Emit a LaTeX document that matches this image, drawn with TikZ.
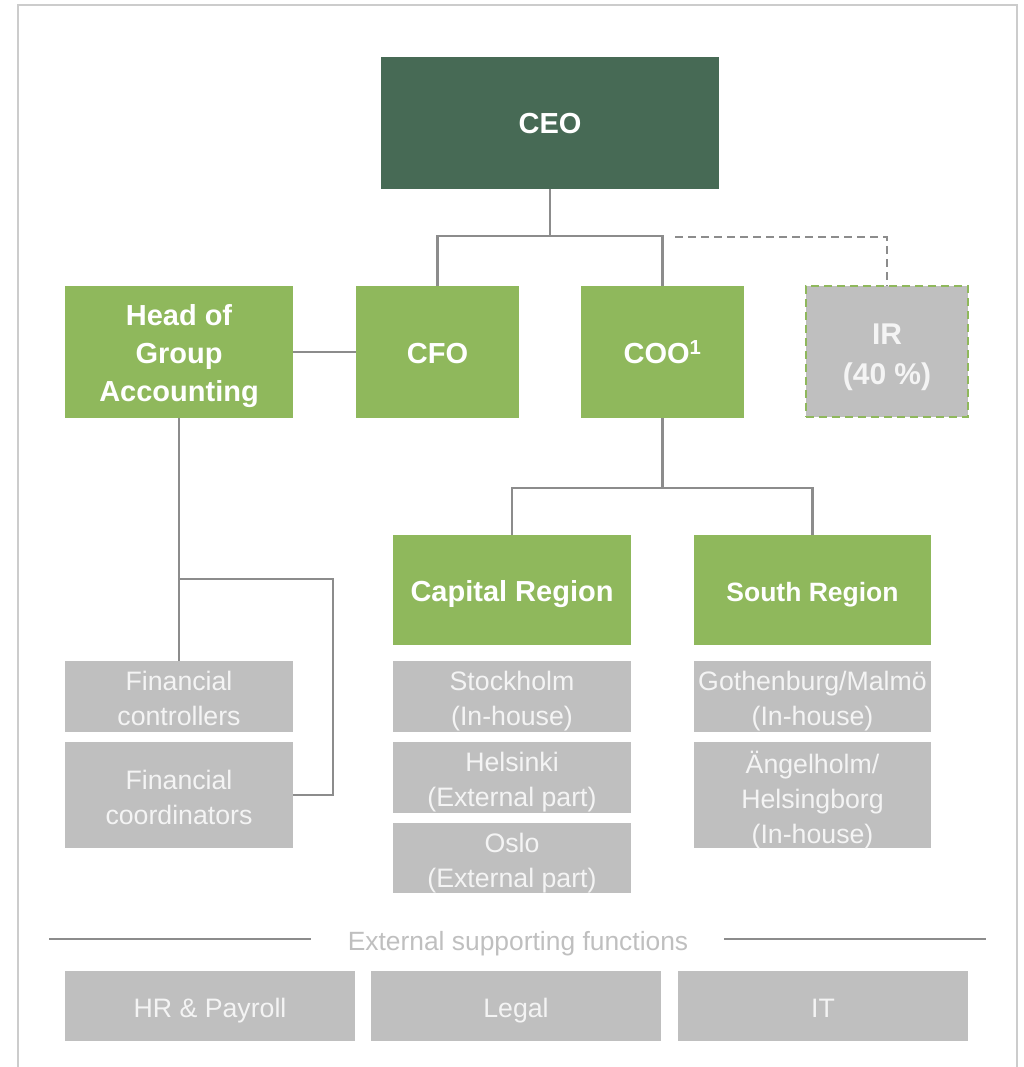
\documentclass[tikz,border=0pt]{standalone}
\usepackage{fontspec}
\setmainfont{Liberation Sans}
\definecolor{ceogreen}{HTML}{476A55}
\definecolor{boxgreen}{HTML}{8FB85C}
\definecolor{boxgrey}{HTML}{BFBFBF}
\definecolor{linegrey}{HTML}{8C8C8C}
\definecolor{framegrey}{HTML}{CCCCCC}
\definecolor{lighttext}{HTML}{F4F4F4}
\begin{document}
\begin{tikzpicture}[x=1pt,y=-1pt,
  base/.style={inner sep=0pt, outer sep=0pt, align=center},
  struts/.style={execute at begin node=\strut, execute at end node=\strut},
  boldtxt/.style={base, struts, text=white, font=\fontsize{29}{38}\selectfont\bfseries, yshift=-3.7pt},
  greytxt/.style={base, struts, text=lighttext, font=\fontsize{26.7}{35}\selectfont, yshift=-4.3pt},
  irtxt/.style={base, struts, text=lighttext, font=\fontsize{30}{40}\selectfont\bfseries, yshift=-8.5pt},
  ceobox/.style={base, fill=ceogreen, label={[boldtxt, yshift=1pt]center:{#1}}},
  greenbox/.style={base, fill=boxgreen, label={[boldtxt]center:{#1}}},
  greenboxml/.style={base, fill=boxgreen, label={[boldtxt, yshift=-3pt]center:{#1}}},
  southbox/.style={base, fill=boxgreen, label={[boldtxt, font=\fontsize{26.5}{38}\selectfont\bfseries]center:{#1}}},
  greybox/.style={base, fill=boxgrey, label={[greytxt]center:{#1}}},
  greyboxml/.style={base, fill=boxgrey, label={[greytxt, yshift=-3pt]center:{#1}}},
  irbox/.style={base, fill=boxgrey, draw=boxgreen, line width=2.4pt, dash pattern=on 8pt off 5pt, label={[irtxt]center:{#1}}},
  conn/.style={draw=linegrey, line width=2.2pt},
  dconn/.style={draw=linegrey, line width=2.4pt, dash pattern=on 8pt off 5pt},
  sz/.style n args={2}{minimum width=#1pt, minimum height=#2pt}
]
\useasboundingbox (0,0) rectangle (1024,1067);
% frame
\draw[framegrey, line width=1.6pt] (18,1067) -- (18,5) -- (1017,5) -- (1017,1067);

% top level
\node[ceobox={CEO}, sz={338}{132}] (ceo) at (550,123) {};
\node[greenboxml={Head of\\Group\\Accounting}, sz={228}{132}] (hga) at (179,352) {};
\node[greenbox={CFO}, sz={163}{132}] (cfo) at (437.5,352) {};
\node[greenbox={COO\textsuperscript{1}}, sz={163}{132}] (coo) at (662.5,352) {};
\node[irbox={IR\\(40~\%)}, sz={162}{131}] (ir) at (887,351.5) {};

% accounting
\node[greyboxml={Financial\\controllers}, sz={228}{71}] (fctrl) at (179,696.5) {};
\node[greyboxml={Financial\\coordinators}, sz={228}{106}] (fcoord) at (179,795) {};

% regions
\node[greenbox={Capital Region}, sz={238}{110}] (cap) at (512,590) {};
\node[southbox={South Region}, sz={237}{110}] (south) at (812.5,590) {};
\node[greyboxml={Stockholm\\(In-house)}, sz={238}{71}] (sto) at (512,696.5) {};
\node[greyboxml={Helsinki\\(External part)}, sz={238}{71}] (hel) at (512,777.5) {};
\node[greyboxml={Oslo\\(External part)}, sz={238}{70}] (osl) at (512,858) {};
\node[greyboxml={Gothenburg/Malmö\\(In-house)}, sz={237}{71}] (got) at (812.5,696.5) {};
\node[greyboxml={Ängelholm/\\Helsingborg\\(In-house)}, sz={237}{106}] (ang) at (812.5,795) {};

% external functions
\node[base, struts, text=boxgrey, font=\fontsize{26.4}{30}\selectfont, yshift=-2.7pt] (ext) at (518,942) {External supporting functions};
\coordinate (l1) at (49,939);
\coordinate (l2) at (311,939);
\coordinate (r1) at (724,939);
\coordinate (r2) at (986,939);
\draw[conn] (l1) -- (l2);
\draw[conn] (r1) -- (r2);
\node[greybox={HR \& Payroll}, sz={290}{70}] (hr) at (210,1006) {};
\node[greybox={Legal}, sz={290}{70}] (legal) at (516,1006) {};
\node[greybox={IT}, sz={290}{70}] (it) at (823,1006) {};

% connectors
\draw[conn] (ceo.south) -- ++(0,47);
\draw[conn] (cfo.north) -- ++(0,-50) -| (coo.north);
\coordinate (d0) at (675,237);
\draw[dconn] (d0) -| (ir.north);
\draw[conn] (hga.east) -- (cfo.west);
\draw[conn] (hga.south) -- (fctrl.north);
\coordinate (hgab) at (179,579);
\draw[conn] (hgab) -- ++(154,0) |- (fcoord.east);
\draw[conn] (coo.south) -- ++(0,70);
\draw[conn] (cap.north) -- ++(0,-47) -| (south.north);
\end{tikzpicture}
\end{document}
